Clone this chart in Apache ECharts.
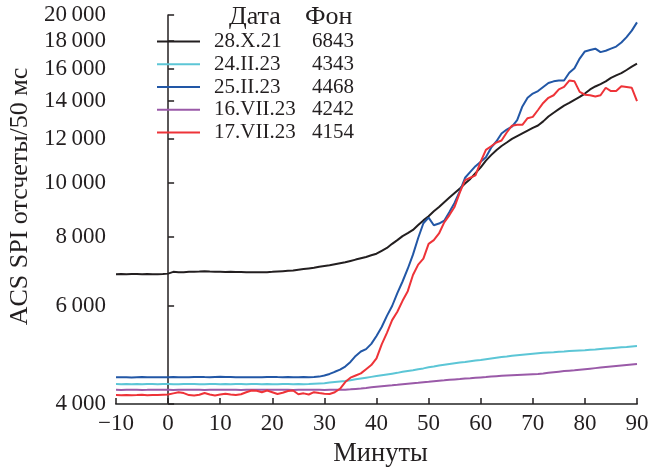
<!DOCTYPE html>
<html><head><meta charset="utf-8">
<script src="https://cdn.jsdelivr.net/npm/echarts@6/dist/echarts.min.js"></script>
<style>html,body{margin:0;padding:0;background:#fff}#c{width:671px;height:469px}</style>
</head><body><div id="c"></div>
<script>
const minutes = [-10,-9,-8,-7,-6,-5,-4,-3,-2,-1,0,1,2,3,4,5,6,7,8,9,10,11,12,13,14,15,16,17,18,19,20,21,22,23,24,25,26,27,28,29,30,31,32,33,34,35,36,37,38,39,40,41,42,43,44,45,46,47,48,49,50,51,52,53,54,55,56,57,58,59,60,61,62,63,64,65,66,67,68,69,70,71,72,73,74,75,76,77,78,79,80,81,82,83,84,85,86,87,88,89,90];
const yTicks = [4000,6000,8000,10000,12000,14000,16000,18000,20000];
const xTicks = [-10,0,10,20,30,40,50,60,70,80,90];
const dates = ['28.X.21','24.II.23','25.II.23','16.VII.23','17.VII.23'];
const backgrounds = [6843,4343,4468,4242,4154];
const colors = ['#231f20','#5cc6d6','#2257a6','#9a5aa8','#ee3338'];

const s_28X21 = [6845,6848,6842,6846,6850,6844,6848,6845,6842,6850,6860,6910,6900,6900,6910,6912,6920,6930,6920,6912,6910,6908,6910,6905,6905,6902,6900,6900,6898,6902,6910,6920,6930,6940,6950,6970,6990,7010,7030,7060,7080,7100,7130,7160,7190,7230,7270,7310,7350,7400,7450,7540,7630,7760,7880,8010,8110,8220,8390,8550,8700,8880,9040,9220,9400,9580,9760,9960,10150,10400,10650,10950,11200,11430,11630,11800,11980,12120,12260,12400,12540,12660,12880,13140,13350,13550,13750,13900,14080,14250,14450,14700,14880,15030,15200,15420,15580,15720,15930,16150,16350];
const s_24II23 = [4343,4340,4345,4342,4344,4340,4343,4346,4341,4343,4345,4342,4340,4344,4343,4346,4342,4340,4343,4345,4342,4343,4341,4344,4343,4342,4345,4343,4341,4344,4342,4340,4343,4345,4342,4344,4341,4343,4350,4355,4360,4370,4380,4390,4400,4415,4430,4445,4460,4475,4490,4505,4520,4535,4550,4570,4585,4600,4620,4635,4655,4670,4690,4705,4720,4735,4750,4760,4775,4790,4800,4815,4830,4845,4860,4870,4885,4895,4905,4915,4925,4935,4945,4950,4955,4965,4970,4980,4985,4990,4995,5005,5010,5020,5030,5040,5050,5060,5065,5075,5085];
const s_25II23 = [4468,4466,4470,4465,4468,4471,4467,4469,4466,4470,4468,4472,4468,4466,4470,4473,4475,4472,4470,4474,4476,4474,4472,4470,4468,4470,4466,4468,4470,4472,4474,4471,4469,4472,4470,4468,4471,4469,4472,4480,4500,4530,4570,4610,4670,4760,4880,4970,5020,5130,5300,5500,5760,6000,6330,6640,7000,7420,7950,8450,8650,8380,8440,8540,8850,9200,9650,10200,10450,10700,10900,11100,11550,11850,12250,12450,12600,12950,13700,14200,14450,14600,14850,15100,15200,15250,15250,15750,16050,16700,17200,17300,17400,17150,17250,17400,17550,17850,18250,18750,19400];
const s_16VII23 = [4242,4240,4244,4241,4243,4240,4242,4245,4241,4242,4243,4240,4242,4244,4241,4242,4243,4240,4242,4244,4242,4241,4243,4242,4240,4243,4242,4244,4241,4242,4243,4242,4241,4243,4240,4242,4244,4241,4243,4242,4240,4243,4242,4241,4245,4250,4258,4266,4275,4285,4295,4305,4315,4322,4330,4340,4350,4360,4368,4378,4385,4395,4405,4412,4420,4428,4435,4443,4450,4458,4465,4472,4480,4488,4495,4500,4505,4510,4515,4520,4525,4530,4538,4550,4562,4573,4583,4592,4600,4610,4620,4630,4640,4650,4660,4670,4680,4690,4700,4710,4720];
const s_17VII23 = [4150,4148,4152,4146,4150,4155,4148,4152,4150,4155,4160,4180,4200,4185,4150,4145,4155,4185,4160,4145,4160,4175,4160,4150,4165,4200,4230,4225,4200,4230,4200,4170,4190,4220,4230,4165,4180,4160,4200,4185,4175,4170,4200,4260,4380,4460,4500,4540,4620,4700,4830,5120,5370,5660,5860,6130,6380,6820,7120,7300,7760,7880,8100,8480,8740,9050,9600,10100,10200,10300,10900,11450,11620,11800,11900,12300,12650,12700,12700,13050,13120,13500,13900,14200,14350,14700,14850,15250,15200,14550,14380,14350,14280,14350,14800,14600,14600,14900,14850,14800,14000];
const seriesValues = [s_28X21, s_24II23, s_25II23, s_16VII23, s_17VII23];

const FONT = '"Liberation Serif","DejaVu Serif",serif';
const TXT = '#231f20';
const fmtNum = v => { const n = Math.round(Math.pow(10, v) / 100) * 100; const s = String(n); return s.length > 3 ? s.slice(0, s.length - 3) + '\u2009' + s.slice(-3) : s; };

const chart = echarts.init(document.getElementById('c'), null, {renderer: 'canvas'});
const series = dates.map((d, i) => ({
  name: d, type: 'line', symbol: 'none', smooth: false,
  lineStyle: {color: colors[i], width: 2},
  itemStyle: {color: colors[i]},
  data: minutes.map((m, j) => [m, Math.log10(seriesValues[i][j])]),
  z: [1, 2, 3, 2, 4][i]
}));
chart.setOption({
  animation: false,
  backgroundColor: '#fff',
  grid: {left: 116, right: 34, top: 15, bottom: 65, containLabel: false, outerBoundsMode: 'none'},
  xAxis: {
    type: 'value', min: -10, max: 90, interval: 10,
    name: 'Минуты', nameLocation: 'middle', nameGap: 37,
    nameTextStyle: {fontFamily: FONT, fontSize: 26.5, color: TXT, padding: [0, 0, 0, 8]},
    axisLine: {lineStyle: {color: '#5a5a5a', width: 2}},
    axisTick: {inside: true, length: 6, lineStyle: {color: '#231f20', width: 1.5}},
    axisLabel: {fontFamily: FONT, fontSize: 23, color: TXT, margin: 8, formatter: v => String(v).replace('-', '\u2212')},
    splitLine: {show: false}
  },
  yAxis: {
    type: 'value', min: Math.log10(yTicks[0]), max: Math.log10(yTicks[yTicks.length - 1]),
    name: 'ACS SPI отсчеты/50 мс', nameLocation: 'middle', nameGap: 82,
    nameTextStyle: {fontFamily: FONT, fontSize: 26, color: TXT, padding: [0, 0, 0, 26]},
    axisLine: {show: true, lineStyle: {color: '#231f20', width: 1.5}},
    axisTick: {show: true, inside: true, length: 6, customValues: yTicks.map(v => Math.log10(v)), lineStyle: {color: '#231f20', width: 1.5}},
    axisLabel: {fontFamily: FONT, fontSize: 23, color: TXT, margin: 10, verticalAlignMinLabel: 'middle', verticalAlignMaxLabel: 'middle',
      customValues: yTicks.map(v => Math.log10(v)), formatter: fmtNum},
    splitLine: {show: false}
  },
  legend: {
    orient: 'vertical', left: 152, top: 25.5, itemWidth: 43, itemHeight: 22, itemGap: 0.75,
    icon: 'path://M0,10 L43,10 L43,12 L0,12 Z',
    data: dates,
    textStyle: {fontFamily: FONT, fontSize: 21, color: TXT, lineHeight: 22,
      rich: {a: {fontFamily: FONT, fontSize: 21, color: TXT, width: 98, padding: [0, 0, 0, 9]}, b: {fontFamily: FONT, fontSize: 21, color: TXT}}},
    formatter: name => '{a|' + name + '}{b|' + backgrounds[dates.indexOf(name)] + '}'
  },
  graphic: [
    {type: 'text', left: 229, top: 4, style: {text: 'Дата', font: '26px ' + FONT, fill: TXT}},
    {type: 'text', left: 305, top: 4, style: {text: 'Фон', font: '26px ' + FONT, fill: TXT}}
  ],
  series: series
});
</script></body></html>
